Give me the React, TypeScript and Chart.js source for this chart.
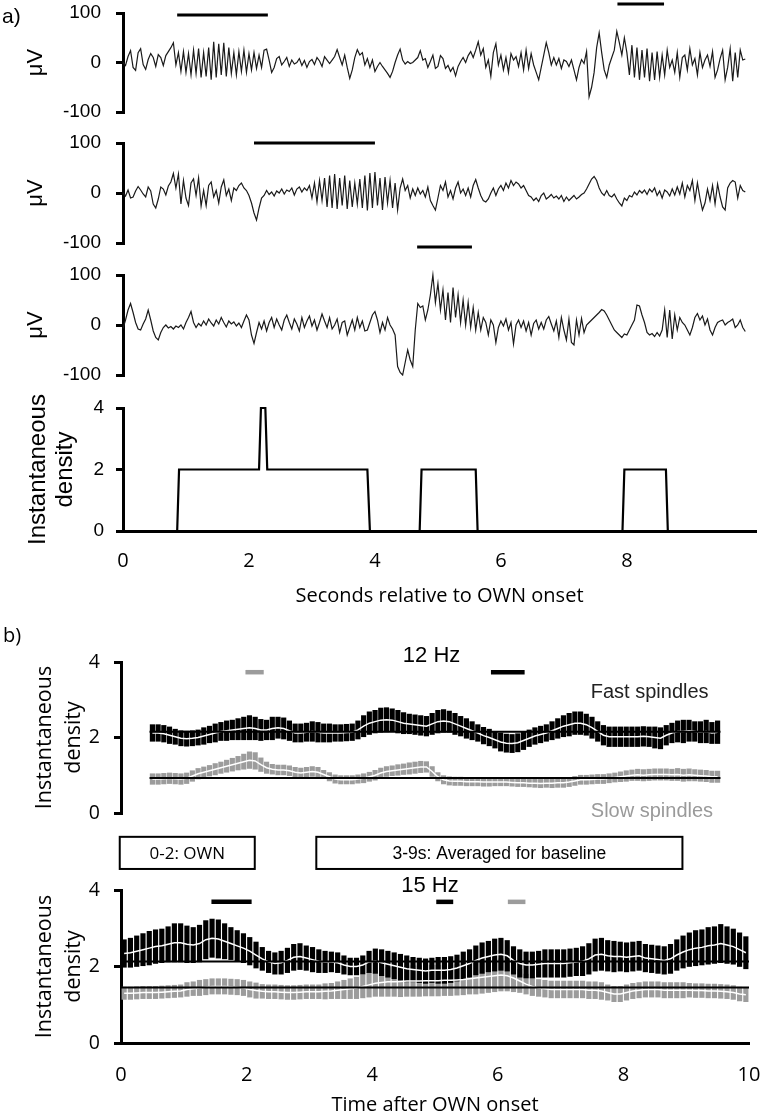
import React, { useEffect, useRef } from "react";
import { Chart, registerables } from "chart.js";

Chart.register(...registerables);

const ARIAL = "'Liberation Sans', Arial, sans-serif";
const OPEN = "'Open Sans', sans-serif";

// ---------- Panel a: EEG traces (µV), sampled at FS per second ----------
const FS = 25;
const TRACE1 = [
  0,-6,12,24,-10,-16,20,28,-4,-14,6,18,10,-8,16,10,-6,14,22,30,
  40,-5,20,-18,22,-20,18,-25,25,-22,28,-30,20,-28,30,-35,42,-30,38,-25,40,-28,30,-22,20,-25,22,-18,25,-20,18,-15,20,-12,15,-10,25,27,
  5,-20,-10,8,12,-5,2,10,-8,5,-3,0,8,-6,4,-10,2,6,-4,10,3,-8,12,5,-2,
  5,12,26,10,-5,15,-10,-32,-15,10,26,15,20,-5,8,-10,5,-18,-8,
  0,-8,-15,-22,-30,-18,0,15,27,
  5,-3,2,-2,0,5,10,24,
  5,8,-10,2,15,-12,-8,14,8,-12,-6,-18,-10,-27,
  -8,2,10,0,14,22,10,25,42,
  15,28,-10,5,-28,20,38,-5,15,-15,10,-20,18,5,
  12,-8,20,-15,25,-12,18,-5,-20,-35,
  -10,15,40,20,-5,
  10,-5,8,-12,5,2,-8,5,-15,-35,-10,6,-2,
  22,-69,-50,-20,30,60,20,-15,-30,-5,10,25,63,40,15,50,20,
  -25,35,-30,30,-35,25,-30,28,-38,20,-35,22,-30,15,-25,
  25,-10,5,-20,20,-30,10,15,-15,28,-5,8,-25,20,-10,5,15,-8,22,-30,-15,8,25,-35,-10,28,-38,20,-30,25,5,7,
];
const TRACE2 = [
  0,-6,6,-10,-8,4,13,6,-2,-8,12,4,-22,-30,-12,12,8,-4,14,22,
  39,10,38,-22,25,-10,-25,20,28,-5,30,-26,5,-25,15,22,-8,5,-20,12,26,-5,8,-15,10,5,15,20,10,
  5,-5,-20,-40,-54,-30,
  -10,-5,5,-3,2,-6,4,0,8,-2,6,3,10,-4,8,12,2,10,5,15,
  -10,20,-18,25,-15,30,-28,35,-30,38,-32,30,-25,35,-32,25,-28,20,-22,28,-30,35,-35,40,-30,42,-25,30,-34,32,-20,25,-30,20,-34,10,
  28,5,15,-10,8,-5,10,-2,5,-8,12,-15,-25,-34,
  -10,15,5,22,-8,5,-12,10,22,0,8,-5,10,-8,15,27,10,-5,-15,-18,
  -12,0,10,-5,8,15,5,20,10,25,15,22,18,10,15,5,-5,-8,-15,-10,-17,-5,0,-12,-8,-3,
  -10,-6,-12,-5,-17,-8,-15,-10,-5,-12,-8,-3,0,8,18,28,
  33,25,10,0,-5,5,-5,-8,-2,-12,-20,-26,-10,-15,
  -5,-8,2,-4,5,0,6,-3,8,2,10,-5,4,-10,6,2,-6,8,-4,12,-2,20,-8,15,5,
  25,-15,20,-10,-34,-20,8,-15,15,-22,18,-8,-28,-34,10,20,25,22,-10,15,5,2,
];
const TRACE3 = [
  -7,10,30,43,25,5,-8,-10,2,12,30,10,-12,-25,-30,-15,
  -5,0,-6,-3,-8,-2,-5,0,-8,5,15,27,5,-5,3,-2,8,0,12,4,
  -2,10,2,15,5,-4,8,2,6,-2,4,-5,8,20,
  10,-20,-37,-15,5,
  -8,8,-12,5,15,-5,12,0,-10,10,20,5,-8,12,2,-12,15,-5,8,18,-2,10,-10,5,22,8,-5,15,-8,0,12,-15,5,8,-20,-5,10,-10,15,-5,8,-12,
  -10,5,20,27,10,-15,5,-10,15,0,-8,
  -20,-83,-95,-100,-75,-50,-70,-83,-10,43,35,38,10,30,60,100,45,83,30,70,
  10,65,5,75,15,60,5,50,0,45,-5,35,-10,
  25,-10,15,5,-20,10,0,-35,-5,8,-2,12,-10,5,-38,0,10,-5,8,-12,5,-20,3,10,-8,
  5,-8,10,17,2,-12,8,-25,15,-10,-30,12,-35,-40,10,-20,13,-15,0,5,10,15,20,25,31,28,
  20,10,0,-10,-15,-20,-25,-18,-20,-10,0,10,40,38,20,
  5,-15,-20,-17,-23,-15,-22,-10,30,-25,30,-28,20,-10,15,5,
  0,-10,-20,-5,15,23,10,18,0,12,-10,-20,-5,5,8,10,0,5,8,12,-5,0,10,-5,-13,
];

// ---------- Panel a: instantaneous density (step trace) ----------
const DENS_T = [0, 0.86, 0.89, 2.16, 2.19, 2.26, 2.29, 3.88, 3.92, 4.71, 4.74, 5.6, 5.63, 7.93, 7.96, 8.62, 8.65, 10.05];
const DENS_V = [0, 0, 2, 2, 4, 4, 2, 2, 0, 0, 2, 2, 0, 0, 2, 2, 0, 0];

const X_TICKS_A = [0, 2, 4, 6, 8];
const Y_TICKS_UV = [-100, 0, 100];
const Y_TICKS_DENS = [0, 2, 4];
const X_TICKS_B = [0, 2, 4, 6, 8, 10];

// spindle marker bars [start s, end s, level]
const TRACE1_MARKS = [[0.86, 2.3, 96], [7.85, 8.59, 118]];
const TRACE2_MARKS = [[2.08, 4.0, 100]];
const TRACE3_MARKS = [[4.67, 5.54, 156]];

// ---------- Panel b: binned density (mean and SEM), 0.1 s bins ----------
const BIN_STEP = 0.1;
const FAST12_M = [
  2.12,2.12,2.10,2.06,2.02,1.98,1.97,1.98,2.00,2.04,
  2.08,2.12,2.16,2.18,2.20,2.22,2.24,2.26,2.24,2.20,
  2.20,2.24,2.26,2.24,2.18,2.12,2.12,2.14,2.16,2.14,
  2.12,2.12,2.12,2.12,2.13,2.14,2.20,2.30,2.38,2.42,
  2.46,2.47,2.46,2.42,2.38,2.36,2.34,2.32,2.30,2.36,
  2.42,2.44,2.42,2.36,2.30,2.24,2.18,2.12,2.05,2.00,
  1.94,1.88,1.85,1.84,1.86,1.92,1.98,2.04,2.08,2.12,
  2.18,2.24,2.30,2.34,2.38,2.38,2.34,2.26,2.16,2.06,
  2.02,2.02,2.02,2.02,2.02,2.02,2.03,2.02,2.00,1.98,
  2.06,2.12,2.16,2.16,2.18,2.16,2.14,2.16,2.12,2.14,
];
const FAST12_E = [
  0.22,0.22,0.22,0.22,0.2,0.2,0.2,0.2,0.2,0.22,
  0.22,0.24,0.24,0.26,0.26,0.28,0.3,0.32,0.3,0.28,
  0.26,0.3,0.28,0.28,0.26,0.24,0.24,0.24,0.26,0.26,
  0.24,0.24,0.22,0.22,0.22,0.22,0.24,0.28,0.3,0.3,
  0.32,0.32,0.3,0.3,0.28,0.26,0.26,0.26,0.26,0.28,
  0.3,0.3,0.28,0.28,0.26,0.26,0.24,0.22,0.22,0.22,
  0.22,0.24,0.24,0.24,0.24,0.24,0.22,0.22,0.22,0.22,
  0.24,0.26,0.28,0.3,0.3,0.3,0.28,0.28,0.26,0.26,
  0.26,0.26,0.26,0.26,0.26,0.26,0.26,0.26,0.28,0.28,
  0.26,0.26,0.28,0.3,0.28,0.26,0.28,0.3,0.28,0.3,
];
const SLOW12_M = [
  0.90,0.90,0.91,0.92,0.91,0.90,0.92,0.98,1.04,1.08,
  1.12,1.16,1.20,1.24,1.28,1.32,1.36,1.40,1.38,1.28,
  1.20,1.16,1.14,1.14,1.12,1.08,1.06,1.08,1.10,1.08,
  1.02,0.96,0.90,0.88,0.88,0.88,0.90,0.92,0.96,1.00,
  1.06,1.10,1.12,1.14,1.16,1.18,1.20,1.22,1.22,1.10,
  0.96,0.88,0.85,0.84,0.84,0.83,0.83,0.83,0.82,0.82,
  0.82,0.82,0.82,0.81,0.80,0.80,0.79,0.79,0.78,0.79,
  0.79,0.80,0.80,0.82,0.85,0.88,0.88,0.89,0.90,0.90,
  0.92,0.94,0.96,0.98,1.00,1.01,1.00,1.01,1.02,1.02,
  1.02,1.01,1.02,1.00,1.01,1.00,0.99,0.98,0.96,0.96,
];
const SLOW12_E = [
  0.14,0.14,0.14,0.14,0.14,0.14,0.14,0.14,0.14,0.14,
  0.14,0.15,0.15,0.16,0.17,0.18,0.2,0.22,0.22,0.18,
  0.15,0.13,0.13,0.13,0.13,0.13,0.13,0.13,0.13,0.13,
  0.11,0.11,0.11,0.11,0.11,0.11,0.11,0.12,0.12,0.13,
  0.13,0.13,0.13,0.14,0.14,0.15,0.15,0.15,0.14,0.13,
  0.11,0.11,0.11,0.11,0.11,0.11,0.11,0.11,0.11,0.11,
  0.1,0.1,0.1,0.1,0.1,0.1,0.1,0.11,0.11,0.11,
  0.12,0.12,0.12,0.12,0.12,0.12,0.12,0.12,0.12,0.12,
  0.12,0.12,0.13,0.14,0.14,0.15,0.15,0.15,0.15,0.15,
  0.15,0.15,0.16,0.16,0.16,0.15,0.15,0.15,0.15,0.15,
];
const FAST15_M = [
  2.34,2.36,2.40,2.44,2.48,2.52,2.54,2.58,2.62,2.62,
  2.58,2.56,2.60,2.70,2.74,2.72,2.66,2.60,2.54,2.48,
  2.40,2.30,2.20,2.12,2.08,2.10,2.16,2.24,2.26,2.22,
  2.18,2.14,2.12,2.12,2.10,2.04,2.00,2.00,2.04,2.12,
  2.14,2.10,2.06,2.02,1.98,1.94,1.92,1.90,1.88,1.90,
  1.90,1.90,1.92,1.96,2.02,2.08,2.16,2.22,2.26,2.30,
  2.32,2.28,2.16,2.08,2.04,2.04,2.06,2.08,2.08,2.08,
  2.08,2.10,2.12,2.14,2.20,2.30,2.32,2.28,2.26,2.26,
  2.24,2.26,2.28,2.22,2.20,2.18,2.16,2.20,2.30,2.38,
  2.44,2.48,2.50,2.54,2.56,2.60,2.56,2.52,2.44,2.36,
];
const FAST15_E = [
  0.36,0.38,0.4,0.42,0.44,0.44,0.44,0.46,0.5,0.5,
  0.48,0.46,0.48,0.5,0.5,0.5,0.46,0.42,0.4,0.38,
  0.36,0.34,0.3,0.28,0.28,0.3,0.32,0.34,0.34,0.32,
  0.32,0.3,0.28,0.26,0.26,0.24,0.22,0.22,0.24,0.28,
  0.32,0.34,0.34,0.34,0.34,0.34,0.32,0.32,0.32,0.32,
  0.34,0.34,0.34,0.34,0.36,0.36,0.38,0.4,0.4,0.42,
  0.42,0.4,0.36,0.36,0.34,0.34,0.34,0.36,0.36,0.36,
  0.36,0.36,0.36,0.38,0.4,0.42,0.42,0.4,0.4,0.38,
  0.38,0.38,0.38,0.36,0.36,0.36,0.36,0.38,0.4,0.42,
  0.44,0.46,0.46,0.48,0.48,0.5,0.48,0.46,0.44,0.42,
];
const SLOW15_M = [
  1.30,1.30,1.31,1.32,1.32,1.32,1.33,1.34,1.35,1.36,
  1.40,1.42,1.44,1.46,1.48,1.48,1.48,1.47,1.46,1.44,
  1.40,1.37,1.35,1.34,1.34,1.33,1.32,1.32,1.33,1.34,
  1.34,1.34,1.35,1.36,1.38,1.40,1.42,1.44,1.48,1.52,
  1.56,1.58,1.60,1.60,1.61,1.62,1.62,1.62,1.63,1.63,
  1.63,1.64,1.64,1.65,1.66,1.68,1.70,1.72,1.74,1.76,
  1.78,1.76,1.70,1.62,1.54,1.48,1.44,1.42,1.40,1.40,
  1.40,1.40,1.40,1.40,1.38,1.38,1.36,1.32,1.28,1.28,
  1.32,1.36,1.38,1.40,1.40,1.40,1.38,1.38,1.38,1.38,
  1.38,1.37,1.37,1.36,1.36,1.35,1.34,1.32,1.28,1.26,
];
const SLOW15_E = [
  0.16,0.16,0.16,0.16,0.16,0.16,0.16,0.16,0.16,0.16,
  0.18,0.18,0.2,0.2,0.2,0.2,0.2,0.2,0.2,0.2,
  0.2,0.2,0.18,0.18,0.18,0.18,0.18,0.18,0.18,0.18,
  0.18,0.18,0.2,0.2,0.22,0.24,0.26,0.28,0.3,0.32,
  0.34,0.36,0.38,0.38,0.4,0.4,0.4,0.4,0.4,0.4,
  0.4,0.4,0.4,0.4,0.4,0.4,0.42,0.42,0.42,0.42,
  0.42,0.4,0.36,0.3,0.26,0.24,0.22,0.22,0.22,0.22,
  0.22,0.22,0.22,0.22,0.22,0.22,0.22,0.2,0.2,0.2,
  0.2,0.2,0.2,0.2,0.2,0.2,0.2,0.2,0.2,0.2,
  0.18,0.18,0.18,0.18,0.18,0.18,0.18,0.18,0.18,0.18,
];
const BASE12 = [2.15, 0.93]; // fast, slow baselines
const BASE15 = [2.13, 1.45];
// significance bars [start s, end s, colour]
const SIG12 = [[1.68, 2.0, "#9c9c9c"], [5.98, 6.57, "#000"]];
const SIG15 = [[1.44, 2.08, "#000"], [5.02, 5.29, "#000"], [6.16, 6.44, "#9c9c9c"]];

const BLACK = "#000";
const GREY = "#9c9c9c";

// ---------- annotation plugin ----------
const annotPlugin = {
  id: "annot",
  afterDraw(chart: any, _a: any, opts: any) {
    const items: any[] = (opts && opts.items) || [];
    const { ctx } = chart;
    const xs = chart.scales.x;
    const ys = chart.scales.y;
    const px = (v: number) => xs.getPixelForValue(v);
    const py = (v: number) => ys.getPixelForValue(v);
    ctx.save();
    for (const it of items) {
      if (it.kind === "bar") {
        ctx.strokeStyle = it.color;
        ctx.lineWidth = it.width;
        ctx.lineCap = "butt";
        ctx.beginPath();
        ctx.moveTo(px(it.x1), py(it.y));
        ctx.lineTo(px(it.x2), py(it.y));
        ctx.stroke();
      } else if (it.kind === "text") {
        ctx.font = it.font;
        ctx.fillStyle = it.color || "#000";
        ctx.textAlign = it.align || "center";
        ctx.textBaseline = "middle";
        const x = it.x != null ? px(it.x) : it.left;
        const y = it.y != null ? py(it.y) : it.top;
        ctx.fillText(it.text, x, y);
      } else if (it.kind === "box") {
        const x1 = px(it.x1), x2 = px(it.x2), y1 = py(it.y1), y2 = py(it.y2);
        ctx.strokeStyle = "#000";
        ctx.lineWidth = 2;
        ctx.strokeRect(x1, y1, x2 - x1, y2 - y1);
        ctx.font = it.font;
        ctx.fillStyle = "#000";
        ctx.textAlign = "center";
        ctx.textBaseline = "middle";
        ctx.fillText(it.text, (x1 + x2) / 2, (y1 + y2) / 2 + 1);
      }
    }
    ctx.restore();
  },
};

const common = {
  responsive: false,
  animation: false as const,
  devicePixelRatio: 1,
  events: [] as any[],
};

function yAxis(o: any) {
  return {
    type: "linear",
    position: "left",
    min: o.min,
    max: o.max,
    afterBuildTicks: (s: any) => {
      s.ticks = o.ticks.map((v: number) => ({ value: v }));
    },
    afterFit: (s: any) => {
      s.width = o.width;
      s.paddingTop = 0;
      s.paddingBottom = 0;
    },
    border: { display: true, width: 3, color: "#000" },
    grid: { drawOnChartArea: false, drawTicks: true, tickLength: 7, tickWidth: 3, tickColor: "#000", lineWidth: 3 },
    ticks: { color: "#000", font: o.tickFont, padding: o.tickPad, autoSkip: false },
    title: { display: true, text: o.title, color: "#000", font: o.titleFont, padding: { top: o.titlePad, bottom: 0 } },
  };
}

function xAxis(o: any) {
  if (!o.show) return { type: "linear", min: o.min, max: o.max, display: false };
  return {
    type: "linear",
    position: "bottom",
    min: o.min,
    max: o.max,
    offset: false,
    afterBuildTicks: (s: any) => {
      s.ticks = o.ticks.map((v: number) => ({ value: v }));
    },
    afterFit: (s: any) => {
      s.height = o.height;
      s.paddingLeft = 0;
      s.paddingRight = 0;
    },
    border: { display: true, width: 3, color: "#000" },
    grid: { drawOnChartArea: false, drawTicks: false, offset: false },
    ticks: { color: "#000", font: { family: OPEN, size: 20 }, padding: o.tickPad, maxRotation: 0, autoSkip: false },
    title: { display: true, text: o.title, color: "#000", font: { family: OPEN, size: 20 }, padding: { top: 0, bottom: o.titlePad } },
  };
}

const markItems = (marks: number[][]) =>
  marks.map((m) => ({ kind: "bar", x1: m[0], x2: m[1], y: m[2], width: 3, color: BLACK }));

function traceConfig(values: number[], marks: number[][], pad: any, extra: any[] = []) {
  return {
    type: "line",
    data: {
      datasets: [
        {
          data: values.map((v, i) => ({ x: i / FS, y: v })),
          borderColor: "#1a1a1a",
          borderWidth: 1.2,
          pointRadius: 0,
          tension: 0,
          clip: false,
        },
      ],
    },
    options: {
      ...common,
      layout: { padding: { left: 0, right: 4, top: pad.top, bottom: pad.bottom } },
      scales: {
        x: xAxis({ show: false, min: 0, max: 10.05 }),
        y: yAxis({
          min: -100, max: 100, ticks: Y_TICKS_UV, width: 123,
          tickFont: { family: ARIAL, size: 19 }, tickPad: 15,
          title: "μV", titleFont: { family: ARIAL, size: 22, lineHeight: 1 }, titlePad: 25,
        }),
      },
      plugins: { legend: { display: false }, tooltip: { enabled: false }, annot: { items: [...extra, ...markItems(marks)] } },
    },
    plugins: [annotPlugin],
  };
}

function densityConfig() {
  return {
    type: "line",
    data: {
      datasets: [
        {
          data: DENS_T.map((t, i) => ({ x: t, y: DENS_V[i] })),
          borderColor: "#000",
          borderWidth: 2.2,
          pointRadius: 0,
          tension: 0,
          clip: false,
        },
      ],
    },
    options: {
      ...common,
      layout: { padding: { left: 0, right: 4, top: 23, bottom: 0 } },
      scales: {
        x: xAxis({ show: true, min: 0, max: 10.05, ticks: X_TICKS_A, height: 79, tickPad: 18, title: "Seconds relative to OWN onset", titlePad: 2 }),
        y: yAxis({
          min: 0, max: 4, ticks: Y_TICKS_DENS, width: 123,
          tickFont: { family: ARIAL, size: 19 }, tickPad: 12,
          title: ["Instantaneous", "density"], titleFont: { family: ARIAL, size: 24, lineHeight: 1.12 }, titlePad: 25,
        }),
      },
      plugins: { legend: { display: false }, tooltip: { enabled: false } },
    },
  };
}

const binData = (m: number[], e: number[]) => m.map((v, i) => ({ x: (i + 0.5) * BIN_STEP, y: [v - e[i], v + e[i]] }));
const meanData = (m: number[]) => m.map((v, i) => ({ x: (i + 0.5) * BIN_STEP, y: v }));
const baseData = (b: number) => [{ x: 0, y: b }, { x: 10, y: b }];

function spindleDatasets(fm: number[], fe: number[], sm: number[], se: number[], base: number[]) {
  const line = (data: any, color: string, width: number, order: number) => ({
    type: "line", data, borderColor: color, borderWidth: width, pointRadius: 0, tension: 0, order, clip: false,
  });
  return [
    line(baseData(base[0]), "#000", 2, 0),
    line(baseData(base[1]), "#000", 2, 0),
    line(meanData(fm), "#fff", 1.5, 1),
    line(meanData(sm), "#fff", 1.5, 2),
    { type: "bar", data: binData(fm, fe), backgroundColor: BLACK, barThickness: 4.5, grouped: false, order: 3 },
    { type: "bar", data: binData(sm, se), backgroundColor: GREY, barThickness: 4.5, grouped: false, order: 4 },
  ];
}

const sigItems = (sig: any[], y: number) =>
  sig.map((s) => ({ kind: "bar", x1: s[0], x2: s[1], y, width: 4.5, color: s[2] }));

function spindleConfig(which: 12 | 15) {
  const top = which === 12;
  const datasets = top
    ? spindleDatasets(FAST12_M, FAST12_E, SLOW12_M, SLOW12_E, BASE12)
    : spindleDatasets(FAST15_M, FAST15_E, SLOW15_M, SLOW15_E, BASE15);
  const items = top
    ? [
        { kind: "text", text: "b)", left: 3, top: 21, font: `20px ${OPEN}`, align: "left" },
        { kind: "text", text: "12 Hz", x: 4.94, y: 4.16, font: `22px ${ARIAL}` },
        ...sigItems(SIG12, 3.73),
        { kind: "text", text: "Fast spindles", x: 8.76, y: 3.2, font: `20px ${ARIAL}`, color: "#222" },
        { kind: "text", text: "Slow spindles", x: 8.8, y: 0.05, font: `20px ${ARIAL}`, color: "#9a9a9a" },
      ]
    : [
        { kind: "box", x1: -0.02, x2: 2.13, y1: 5.39, y2: 4.55, text: "0-2: OWN", font: `17px ${OPEN}` },
        { kind: "box", x1: 3.11, x2: 8.94, y1: 5.39, y2: 4.55, text: "3-9s: Averaged for baseline", font: `17.5px ${ARIAL}` },
        { kind: "text", text: "15 Hz", x: 4.92, y: 4.1, font: `22px ${ARIAL}` },
        ...sigItems(SIG15, 3.69),
      ];
  return {
    type: "bar",
    data: { datasets },
    options: {
      ...common,
      layout: { padding: top ? { left: 0, right: 11, top: 47, bottom: 17 } : { left: 0, right: 11, top: 60, bottom: 0 } },
      scales: {
        x: top
          ? xAxis({ show: false, min: 0, max: 10 })
          : xAxis({ show: true, min: 0, max: 10, ticks: X_TICKS_B, height: 74, tickPad: 20, title: "Time after OWN onset", titlePad: 0 }),
        y: yAxis({
          min: 0, max: 4, ticks: Y_TICKS_DENS, width: 121,
          tickFont: { family: OPEN, size: 19.5 }, tickPad: 14,
          title: ["Instantaneous", "density"], titleFont: { family: OPEN, size: 21.5, lineHeight: 1.35 }, titlePad: 30,
        }),
      },
      plugins: { legend: { display: false }, tooltip: { enabled: false }, annot: { items } },
    },
    plugins: [annotPlugin],
  };
}

function ChartCanvas({ top, height, make }: { top: number; height: number; make: () => any }) {
  const ref = useRef<HTMLCanvasElement | null>(null);
  useEffect(() => {
    if (!ref.current) return;
    const chart = new Chart(ref.current, make());
    return () => chart.destroy();
  }, []);
  return (
    <canvas
      ref={ref}
      width={760}
      height={height}
      style={{ position: "absolute", left: 0, top, width: 760, height, display: "block" }}
    />
  );
}

export default function App() {
  return (
    <div style={{ position: "absolute", left: 0, top: 0, width: 760, height: 1117, background: "#fff", overflow: "hidden" }}>
      <ChartCanvas
        top={0}
        height={125}
        make={() =>
          traceConfig(TRACE1, TRACE1_MARKS, { top: 13, bottom: 13 }, [
            { kind: "text", text: "a)", left: 2, top: 17, font: `21px ${ARIAL}`, align: "left" },
          ])
        }
      />
      <ChartCanvas top={125} height={128} make={() => traceConfig(TRACE2, TRACE2_MARKS, { top: 18, bottom: 10 })} />
      <ChartCanvas top={240} height={145} make={() => traceConfig(TRACE3, TRACE3_MARKS, { top: 35, bottom: 10 })} />
      <ChartCanvas top={385} height={225} make={densityConfig} />
      <ChartCanvas top={615} height={215} make={() => spindleConfig(12)} />
      <ChartCanvas top={830} height={287} make={() => spindleConfig(15)} />
    </div>
  );
}
